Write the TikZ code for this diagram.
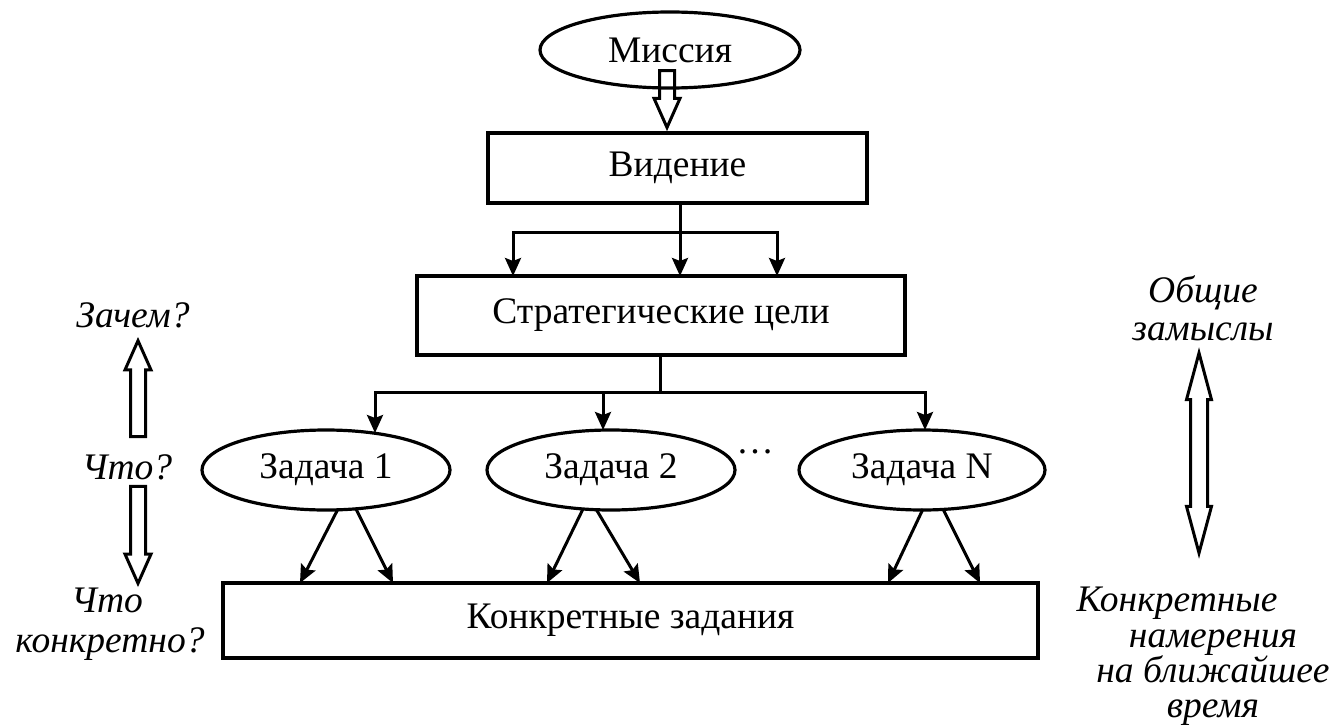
\documentclass[tikz,border=0pt]{standalone}
\usepackage{fontspec}
\setmainfont{Liberation Serif}
\usetikzlibrary{shapes.geometric,shapes.arrows,arrows.meta}
\begin{document}
\begin{tikzpicture}[x=1pt,y=-1pt,
  every node/.style={font=\fontsize{37.5}{44}\selectfont},
  lbl/.style={font=\fontsize{37.5}{44}\selectfont\itshape, inner sep=0pt, anchor=base},
  boxn/.style={draw, line width=3.6pt, inner sep=0pt},
  ell/.style={draw, ellipse, line width=3.2pt, inner sep=0pt},
  arr/.style={line width=3pt, -{Stealth[length=18pt,width=16pt,inset=3pt]}},
  conn/.style={line width=3pt},
  hup/.style={draw, line width=3pt, single arrow, shape border rotate=90, inner sep=6pt,
     single arrow head extend=5.5pt, single arrow head indent=0pt, single arrow tip angle=48, anchor=tip},
  hdown/.style={hup, shape border rotate=270}
]
\useasboundingbox (0,0) rectangle (1335,725);

% main nodes
\node[ell, minimum width=260pt, minimum height=76pt] (mis) at (670,50) {Миссия};
\node[boxn, minimum width=379pt, minimum height=70pt] (vid) at (677.5,168) {Видение};
\node[boxn, minimum width=488pt, minimum height=79pt] (str) at (661,315.5) {Стратегические цели};
\node[ell, minimum width=248pt, minimum height=80pt] (t1) at (326,470) {Задача 1};
\node[ell, minimum width=248pt, minimum height=80pt] (t2) at (611,470) {Задача 2};
\node[ell, minimum width=246pt, minimum height=80pt] (tn) at (922,470) {Задача N};
\node[inner sep=0pt] (dots) at (755,452) {\dots};
\node[boxn, minimum width=815pt, minimum height=75pt] (kon) at (630.5,620.5) {Конкретные задания};

% hollow arrow mission -> vision
\node[hdown, minimum height=57pt, minimum width=24pt] (ha) at (vid.north -| 667,0) {};

% vision -> strategic goals
\coordinate (j1) at (680,232);
\coordinate (s1) at (513,276);
\coordinate (s2) at (680,276);
\coordinate (s3) at (777,276);
\draw[conn] (vid.south -| j1) -- (j1);
\draw[arr] (j1) -| (s1);
\draw[arr] (j1) -| (s3);
\draw[arr] (j1) -- (s2);

% strategic goals -> tasks
\coordinate (j2) at (660,392);
\coordinate (e1) at (375,433);
\coordinate (e2) at (603,430);
\coordinate (e3) at (925,430);
\draw[conn] (str.south -| j2) -- (j2);
\draw[arr] (j2) -| (e1);
\draw[arr] (j2) -| (e3);
\draw[arr] (j2) -| (e2);

% tasks -> concrete
\coordinate (a1) at (338,509); \coordinate (b1) at (300,583);
\coordinate (a2) at (356,509); \coordinate (b2) at (393,583);
\coordinate (a3) at (583,509); \coordinate (b3) at (547,583);
\coordinate (a4) at (596,509); \coordinate (b4) at (640,583);
\coordinate (a5) at (923,509); \coordinate (b5) at (888,583);
\coordinate (a6) at (943,509); \coordinate (b6) at (980,583);
\draw[arr] (a1) -- (b1);
\draw[arr] (a2) -- (b2);
\draw[arr] (a3) -- (b3);
\draw[arr] (a4) -- (b4);
\draw[arr] (a5) -- (b5);
\draw[arr] (a6) -- (b6);

% left labels
\node[lbl] (zach) at (133,327) {Зачем?};
\node[lbl] (chto) at (127,479) {Что?};
\node[lbl] (chto2) at (107,612) {Что};
\node[lbl] (konkr) at (110,652) {конкретно?};
\node[hup, minimum height=96pt, minimum width=23pt] (up) at (138,337) {};
\node[hdown, minimum height=97pt, minimum width=23pt] (down) at (138,587) {};

% right labels
\node[lbl] (ob) at (1203,302) {Общие};
\node[lbl] (zam) at (1203,340) {замыслы};
\node[draw, line width=3pt, double arrow, shape border rotate=90, inner sep=7pt,
      double arrow head extend=4pt, double arrow head indent=0pt, double arrow tip angle=30,
      minimum height=200pt, minimum width=22pt] (dbl) at (1199,453) {};
\node[lbl] (k1) at (1177,611) {Конкретные};
\node[lbl] (k2) at (1213,647) {намерения};
\node[lbl] (k3) at (1213,682) {на ближайшее};
\node[lbl] (k4) at (1213,717) {время};
\end{tikzpicture}
\end{document}
